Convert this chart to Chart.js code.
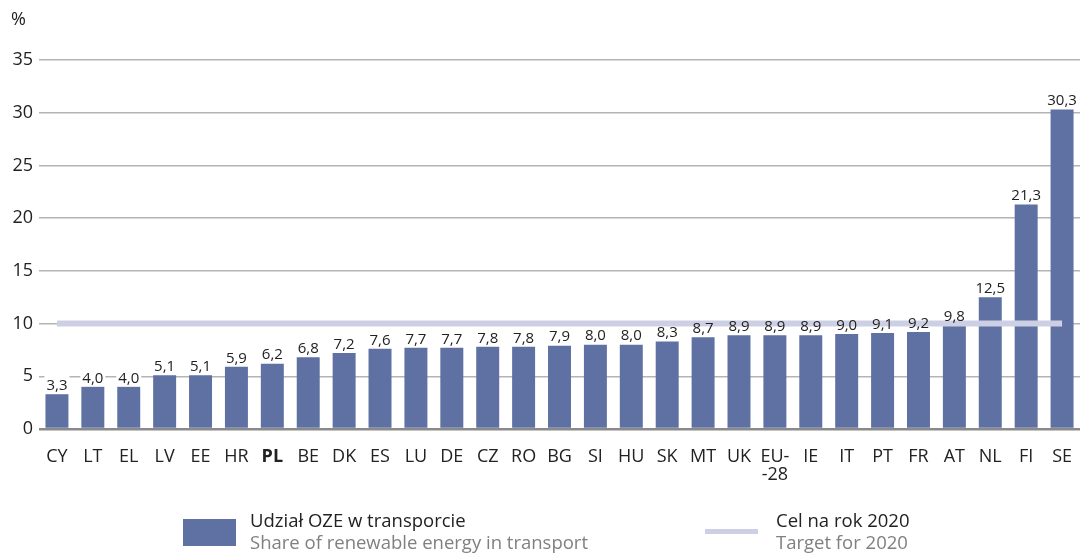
<!DOCTYPE html>
<html>
<head>
<meta charset="utf-8">
<script src="https://cdn.jsdelivr.net/npm/chart.js@4"></script>
<style>
  body { margin: 0; background: #fff; font-family: "Open Sans", sans-serif; overflow: hidden; }
  #wrap { position: relative; width: 1080px; height: 554px; overflow: hidden; }
  #unit { position: absolute; left: 11px; top: 6px; font-size: 18px; color: #222; }
  .leg { position: absolute; top: 509px; font-size: 18.5px; line-height: 22px; color: #222; }
  .leg .sub { color: #808080; }
  .sw { position: absolute; }
</style>
</head>
<body>
<div id="wrap">
  <canvas id="chart" width="1082" height="554"></canvas>
  <div id="unit">%</div>
  <div class="sw" style="left:183px;top:519px;width:53px;height:27px;background:#5f71a2"></div>
  <div class="leg" style="left:250px">Udział OZE w transporcie<br><span class="sub">Share of renewable energy in transport</span></div>
  <div class="sw" style="left:705px;top:529px;width:53px;height:5px;background:#cdd0e4"></div>
  <div class="leg" style="left:776px">Cel na rok 2020<br><span class="sub">Target for 2020</span></div>
</div>
<script>
const countries = ['CY', 'LT', 'EL', 'LV', 'EE', 'HR', 'PL', 'BE', 'DK', 'ES', 'LU', 'DE', 'CZ', 'RO', 'BG', 'SI', 'HU', 'SK', 'MT', 'UK', ['EU-', '-28'], 'IE', 'IT', 'PT', 'FR', 'AT', 'NL', 'FI', 'SE'];
const shares = [3.3, 4.0, 4.0, 5.1, 5.1, 5.9, 6.2, 6.8, 7.2, 7.6, 7.7, 7.7, 7.8, 7.8, 7.9, 8.0, 8.0, 8.3, 8.7, 8.9, 8.9, 8.9, 9.0, 9.1, 9.2, 9.8, 12.5, 21.3, 30.3];
const target = countries.map(() => 10);
const yTicks = [0, 5, 10, 15, 20, 25, 30, 35];

const fontFam = '"Open Sans", sans-serif';
const fmt = v => v.toFixed(1).replace('.', ',');

// white boxes behind labels (cut the gridlines), text drawn later over everything
const valueLabels = {
    id: 'valueLabels',
    beforeDatasetsDraw(chart) {
        const ctx = chart.ctx;
        const meta = chart.getDatasetMeta(1);
        ctx.save();
        ctx.font = '15px ' + fontFam;
        meta.data.forEach((bar, i) => {
            const t = fmt(shares[i]);
            const w = ctx.measureText(t).width;
            ctx.fillStyle = '#fff';
            ctx.fillRect(bar.x - w / 2 - 2, bar.y - 20, w + 4, 17);
        });
        ctx.restore();
    },
    afterDatasetsDraw(chart) {
        const ctx = chart.ctx;
        const meta = chart.getDatasetMeta(1);
        ctx.save();
        ctx.font = '15px ' + fontFam;
        ctx.fillStyle = '#222';
        ctx.textAlign = 'center';
        ctx.textBaseline = 'bottom';
        meta.data.forEach((bar, i) => {
            ctx.fillText(fmt(shares[i]), bar.x, bar.y - 1);
        });
        ctx.restore();
    }
};

new Chart(document.getElementById('chart'), {
    data: {
        labels: countries,
        datasets: [{
            type: 'line',
            label: 'Cel na rok 2020',
            data: target,
            borderColor: '#cdd0e4',
            borderWidth: 6,
            pointRadius: 0,
            order: 0
        }, {
            type: 'bar',
            label: 'Udział OZE w transporcie',
            data: shares,
            backgroundColor: '#5f71a2',
            categoryPercentage: 1,
            barPercentage: 0.64,
            order: 1
        }]
    },
    options: {
        responsive: false,
        animation: false,
        layout: { padding: { top: 60, right: 0, left: 0, bottom: 0 } },
        plugins: { legend: { display: false }, tooltip: { enabled: false } },
        scales: {
            x: {
                grid: { display: false },
                border: { display: false },
                ticks: {
                    color: '#222',
                    padding: 10,
                    maxRotation: 0,
                    autoSkip: false,
                    font: c => ({ family: fontFam, size: 18, weight: countries[c.index] === 'PL' ? 'bold' : 'normal', lineHeight: 1.05 })
                },
                afterFit(scale) { scale.height = 125; }
            },
            y: {
                min: 0,
                max: 35,
                afterBuildTicks(scale) { scale.ticks = yTicks.map(v => ({ value: v })); },
                border: { display: false },
                grid: {
                    drawTicks: false,
                    color: c => c.tick.value === 0 ? '#8a8a8a' : '#b4b4b4',
                    lineWidth: c => c.tick.value === 0 ? 2.5 : 1.5
                },
                ticks: { color: '#222', padding: 6, font: { family: fontFam, size: 18 } },
                afterFit(scale) { scale.width = 39; }
            }
        }
    },
    plugins: [valueLabels]
});
</script>
</body>
</html>
